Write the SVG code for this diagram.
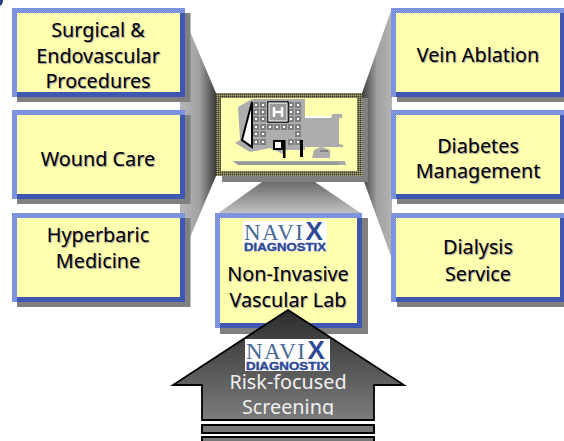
<svg xmlns="http://www.w3.org/2000/svg" xmlns:xlink="http://www.w3.org/1999/xlink" width="564" height="441" viewBox="0 0 564 441">
<style>
.shadow{fill:#808080}
.edge{fill:url(#chk)}
.edge2{fill:#3f57b0}
.face{fill:#ffffb0}
.lab{font-family:"Noto Sans","Liberation Sans",sans-serif;font-size:19.8px;text-anchor:middle;fill:#000;text-shadow:1px 1px 1px #999}
.wh{font-family:"Noto Sans","Liberation Sans",sans-serif;font-size:19.8px;text-anchor:middle;fill:#f0f0f0}
.bar{fill:#777;stroke:#000;stroke-width:2}
.nv{font-family:"Liberation Serif",serif;font-size:23px;fill:#4a6896;letter-spacing:1.500px}
.nx{font-family:"Liberation Sans",sans-serif;font-weight:bold;fill:#2e4a96}
.dg{font-family:"Liberation Sans",sans-serif;font-size:10.500px;font-weight:bold;fill:#2e4a96;stroke:#2e4a96;stroke-width:.4}
</style>
<defs>
<pattern id="chk" width="2" height="2" patternUnits="userSpaceOnUse"><rect width="2" height="2" fill="#6a84e2"/><rect width="1" height="1" fill="#8ea2dc"/><rect x="1" y="1" width="1" height="1" fill="#8ea2dc"/></pattern>
<pattern id="chk2" width="2" height="2" patternUnits="userSpaceOnUse"><rect width="2" height="2" fill="#6f6f50"/><rect width="1" height="1" fill="#403f30"/><rect x="1" y="1" width="1" height="1" fill="#a8a878"/></pattern>
<linearGradient id="gl" gradientUnits="userSpaceOnUse" x1="183" y1="0" x2="216" y2="0"><stop offset="0" stop-color="#b4b4b4"/><stop offset=".5" stop-color="#a0a0a0"/><stop offset="1" stop-color="#3c3c3c"/></linearGradient>
<linearGradient id="gr" gradientUnits="userSpaceOnUse" x1="362" y1="0" x2="392" y2="0"><stop offset="0" stop-color="#3c3c3c"/><stop offset=".5" stop-color="#a0a0a0"/><stop offset="1" stop-color="#b4b4b4"/></linearGradient>
<linearGradient id="gb" gradientUnits="userSpaceOnUse" x1="0" y1="182" x2="0" y2="214"><stop offset="0" stop-color="#6c6c6c"/><stop offset="1" stop-color="#c4c4c4"/></linearGradient>
<linearGradient id="ga" gradientUnits="userSpaceOnUse" x1="0" y1="310" x2="0" y2="420"><stop offset="0" stop-color="#2c2c2c"/><stop offset="1" stop-color="#7c7c7c"/></linearGradient>
<clipPath id="scr"><rect x="200" y="390" width="180" height="25"/></clipPath>
<g id="win"><rect x="-3" y="-3" width="6" height="6" fill="#808080"/><rect x="-1" y="-1" width="2" height="2" fill="#fff"/></g>
</defs>

<path d="M0 0H3Q3 4 0 6Z" fill="#1f3f7f"/>

<g id="connectors">
<polygon points="180,8 216,93 216,176 180,261" fill="url(#gl)"/>
<polygon points="392,8 362,93 362,176 392,259" fill="url(#gr)"/>
<polygon points="217,214 262,182 315,182 362,214" fill="url(#gb)"/>
</g>

<g id="n-surgical">
<rect class="shadow" x="17" y="13" width="173.500" height="89"/><rect class="edge" x="12" y="8" width="173" height="89"/><path class="edge2" d="M180 13h5v84H17v-5h163z"/><rect class="face" x="17" y="13" width="163" height="79"/>
<text class="lab" x="98" y="37">Surgical &amp;</text><text class="lab" x="98" y="63">Endovascular</text><text class="lab" x="98" y="88">Procedures</text>
</g>
<g id="n-wound">
<rect class="shadow" x="17" y="115" width="173.500" height="89"/><rect class="edge" x="12" y="110" width="173" height="89"/><path class="edge2" d="M180 115h5v84H17v-5h163z"/><rect class="face" x="17" y="115" width="163" height="79"/>
<text class="lab" x="98" y="166">Wound Care</text>
</g>
<g id="n-hyperbaric">
<rect class="shadow" x="17" y="218" width="173.500" height="89"/><rect class="edge" x="12" y="213" width="173" height="89"/><path class="edge2" d="M180 218h5v84H17v-5h163z"/><rect class="face" x="17" y="218" width="163" height="79"/>
<text class="lab" x="98" y="242">Hyperbaric</text><text class="lab" x="98" y="268">Medicine</text>
</g>
<g id="n-vein">
<rect class="shadow" x="397" y="13" width="167" height="89"/><rect class="edge" x="391" y="8" width="173" height="89"/><path class="edge2" d="M560 13h4v84H396v-5h164z"/><rect class="face" x="396" y="13" width="164" height="79"/>
<text class="lab" x="478" y="62">Vein Ablation</text>
</g>
<g id="n-diabetes">
<rect class="shadow" x="397" y="115" width="167" height="89"/><rect class="edge" x="391" y="110" width="173" height="89"/><path class="edge2" d="M560 115h4v84H396v-5h164z"/><rect class="face" x="396" y="115" width="164" height="79"/>
<text class="lab" x="478" y="153">Diabetes</text><text class="lab" x="478" y="178">Management</text>
</g>
<g id="n-dialysis">
<rect class="shadow" x="397" y="218" width="167" height="89"/><rect class="edge" x="391" y="213" width="173" height="89"/><path class="edge2" d="M560 218h4v84H396v-5h164z"/><rect class="face" x="396" y="218" width="164" height="79"/>
<text class="lab" x="478" y="254">Dialysis</text><text class="lab" x="478" y="281">Service</text>
</g>

<g id="n-hospital">
<rect class="shadow" x="222" y="98" width="146" height="84"/>
<rect x="216" y="93" width="146" height="83" fill="url(#chk2)"/>
<rect class="face" x="221" y="98" width="136" height="73"/>
<polygon points="232,161 345,161 346,165 238,165" fill="#aaa"/>
<polygon points="236,162 338,162 340,165 238,165" fill="#999"/>
<polygon points="238,107 252,99 305,99 305,117 332,117 332,114 342,114 342,118 339,118 339,144 343,145 343,147 322,147 330,150 330,158 312,158 314,150 320,147 305,147 305,150 285,150 285,155 270,148 250,152 235,143 240,140" fill="#adadad"/>
<rect x="305" y="116" width="26" height="2" fill="#fff"/>
<polygon points="252,102 242,140 252,147" fill="#fff" stroke="#000" stroke-width="2"/>
<use xlink:href="#win" x="256" y="105"/><use xlink:href="#win" x="263" y="105"/><use xlink:href="#win" x="291" y="105"/><use xlink:href="#win" x="298" y="105"/>
<use xlink:href="#win" x="256" y="112"/><use xlink:href="#win" x="263" y="112"/><use xlink:href="#win" x="291" y="112"/><use xlink:href="#win" x="298" y="112"/>
<use xlink:href="#win" x="256" y="119"/><use xlink:href="#win" x="263" y="119"/><use xlink:href="#win" x="291" y="119"/><use xlink:href="#win" x="298" y="119"/>
<use xlink:href="#win" x="256" y="127"/><use xlink:href="#win" x="263" y="127"/><use xlink:href="#win" x="270" y="127"/><use xlink:href="#win" x="277" y="127"/><use xlink:href="#win" x="284" y="127"/><use xlink:href="#win" x="291" y="127"/><use xlink:href="#win" x="298" y="127"/>
<use xlink:href="#win" x="256" y="134"/><use xlink:href="#win" x="263" y="134"/><use xlink:href="#win" x="298" y="134"/>
<use xlink:href="#win" x="256" y="142"/><use xlink:href="#win" x="263" y="142"/><use xlink:href="#win" x="291" y="142"/><use xlink:href="#win" x="298" y="142"/>
<rect x="268" y="102" width="20" height="20" fill="#999" stroke="#000" stroke-width="1.500"/>
<rect x="269" y="103" width="18" height="18" fill="none" stroke="#fff" stroke-width="1"/>
<path d="M274 107v10M282 107v10M274 112h8" stroke="#fff" stroke-width="2.500" fill="none"/>
<path d="M283 140h-10v10h10v8h2.500v-18z" fill="#000"/><rect x="275" y="142" width="6" height="6" fill="#fff"/>
<rect x="300" y="140" width="3" height="17" fill="#000"/>
<rect x="320" y="150" width="8" height="2" fill="#808080"/>
</g>

<g id="n-lab">
<rect class="shadow" x="220" y="218" width="148" height="116"/><rect class="edge" x="215" y="213" width="147" height="115"/><path class="edge2" d="M357 218h5v110H220v-5h137z"/><rect class="face" x="220" y="218" width="137" height="105"/>
<rect x="243" y="221" width="84" height="30" fill="#fff"/>
<text class="nv" x="244" y="240">NAVI<tspan class="nx" font-size="26" dx="1">X</tspan></text>
<text class="dg" x="244" y="250.500" textLength="82" lengthAdjust="spacingAndGlyphs">DIAGNOSTIX</text>
<text class="lab" x="288" y="281">Non-Invasive</text><text class="lab" x="288" y="307">Vascular Lab</text>
</g>

<g id="n-screening">
<polygon points="288,310 404,385 374,385 374,420 202,420 202,385 173,385" fill="url(#ga)" stroke="#000" stroke-width="1.800" stroke-linejoin="miter"/>
<rect class="bar" x="202" y="425" width="172" height="8"/>
<rect class="bar" x="202" y="437" width="172" height="8"/>
<rect x="245" y="339" width="85" height="32" fill="#fff"/>
<text class="nv" x="246" y="359">NAVI<tspan class="nx" font-size="26" dx="1">X</tspan></text>
<text class="dg" x="246" y="369.500" textLength="83" lengthAdjust="spacingAndGlyphs">DIAGNOSTIX</text>
<text class="wh" x="288" y="389">Risk-focused</text>
<text class="wh" x="288" y="414" clip-path="url(#scr)">Screening</text>
</g>
</svg>
